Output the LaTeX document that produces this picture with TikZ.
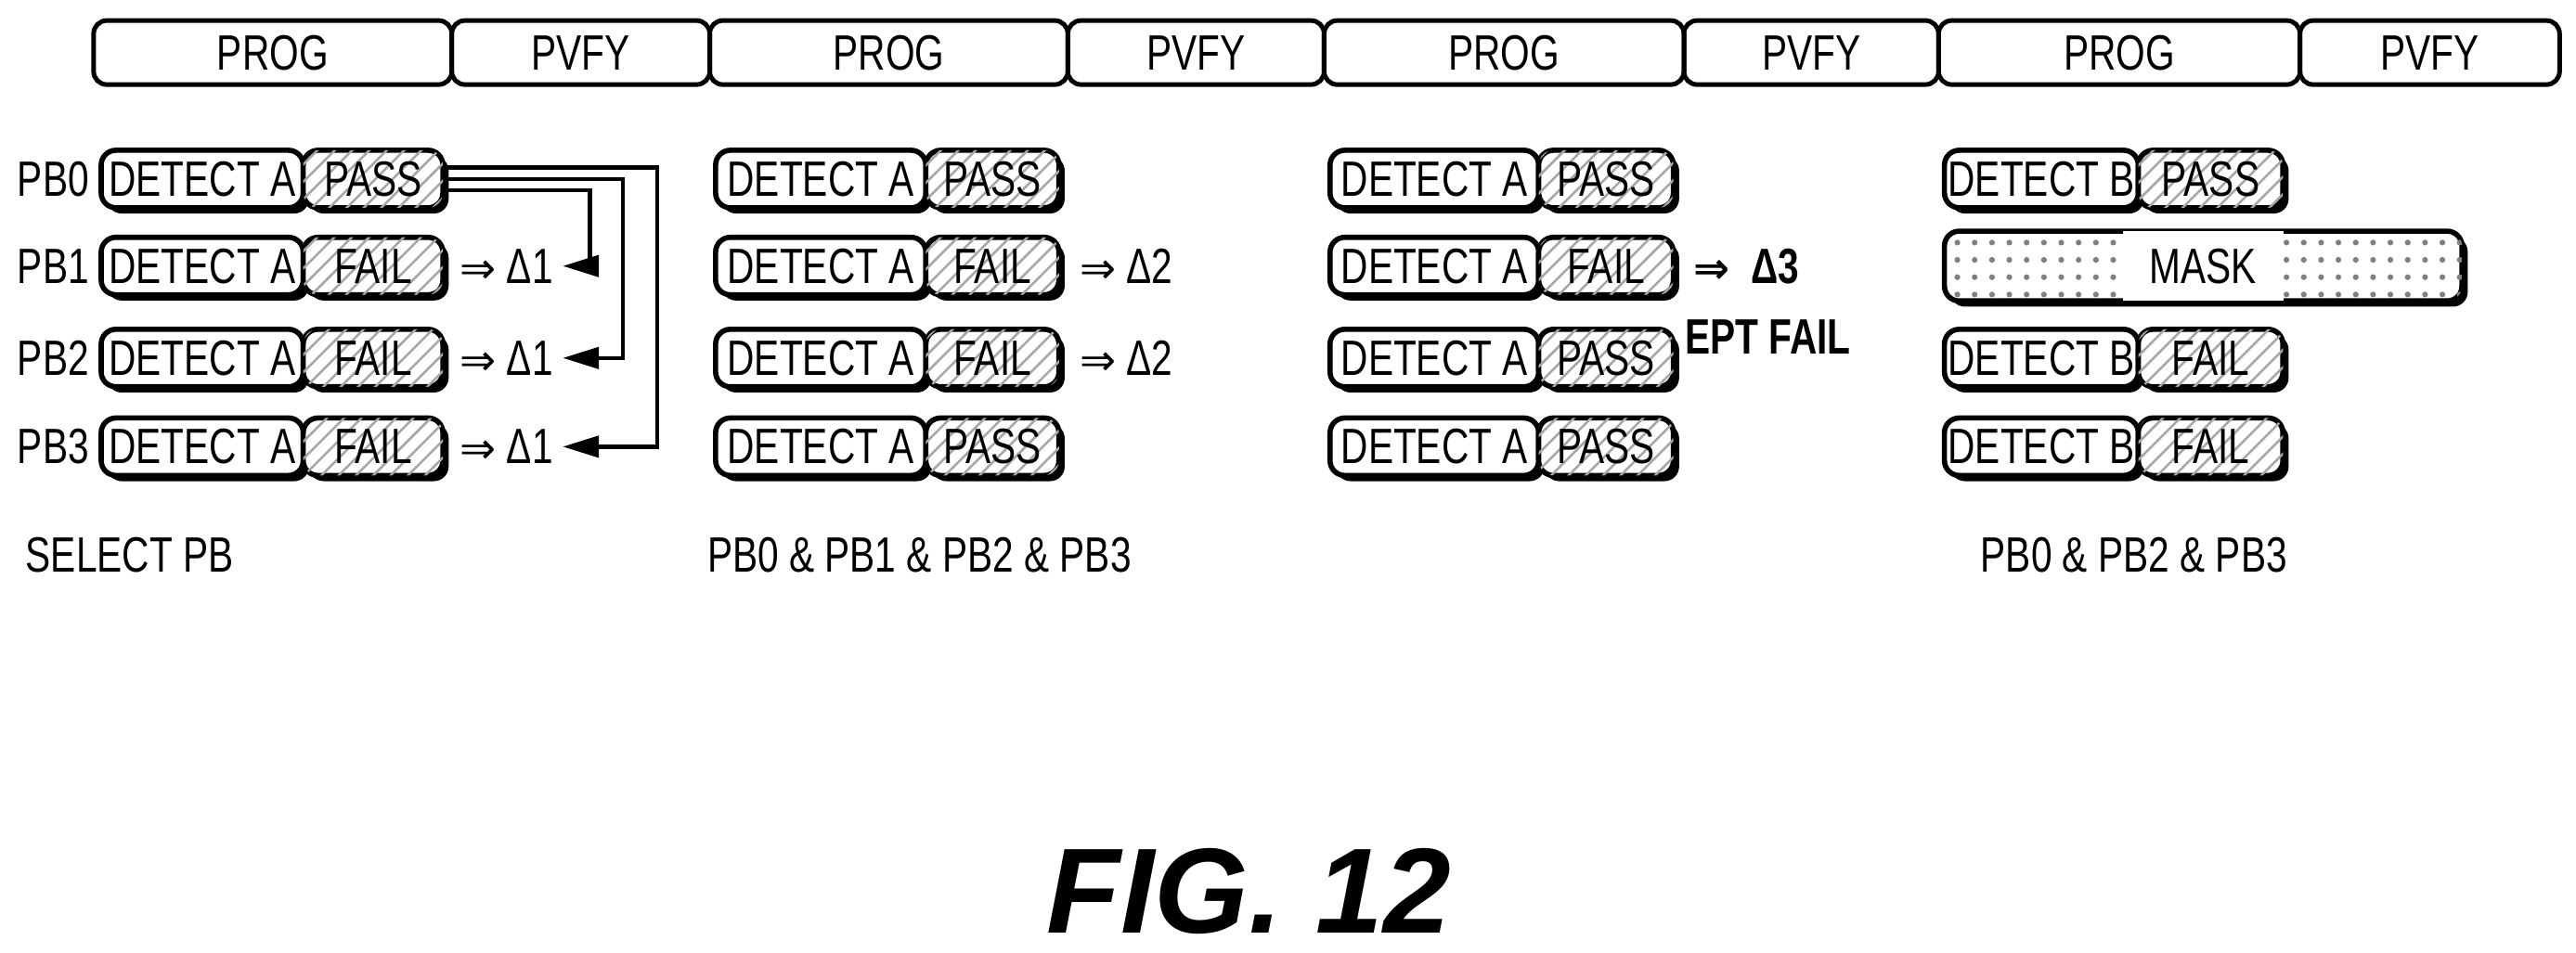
\documentclass[tikz,border=0pt]{standalone}
\usepackage{fontspec}
\setmainfont{Liberation Sans}[FakeStretch=0.76]
\newfontfamily\figfont{Liberation Sans}
\newfontfamily\symfont{DejaVu Sans}
\usetikzlibrary{shadows,patterns,arrows.meta}
\begin{document}
\begin{tikzpicture}[x=0.1mm,y=-0.1mm,
  base/.style={draw,line width=0.9pt,rounded corners=0.9mm,inner sep=0pt,minimum height=3.5mm,anchor=west,font=\fontsize{8.6}{10}\selectfont,
    drop shadow={shadow xshift=0.35mm,shadow yshift=-0.35mm,fill=black,opacity=1}},
  det/.style={base,fill=white},
  res/.style={base,fill=white,postaction={pattern=north east lines,pattern color=gray!70}},
  mask/.style={base,fill=white,postaction={pattern=dots,pattern color=gray}},
  bar/.style={draw,line width=0.8pt,rounded corners=0.8mm,inner sep=0pt,minimum height=3.9mm,font=\fontsize{8.6}{10}\selectfont},
  lbl/.style={font=\fontsize{8.6}{10}\selectfont,inner sep=0pt},
  dl/.style={font=\fontsize{8.6}{10}\selectfont,inner sep=0pt,outer sep=0.6mm,anchor=west},
  arr/.style={line width=0.7pt,-{Triangle[length=2.2mm,width=1.3mm]}}]
\useasboundingbox (0,0) rectangle (1568,580);
% top bar
\foreach \a/\b/\t [count=\i] in {57/275/PROG,275/432/PVFY,432/650/PROG,650/806/PVFY,806/1025/PROG,1025/1180/PVFY,1180/1400/PROG,1400/1558/PVFY}
  \node[bar,minimum width={(\b-\a)*0.1mm}] (t\i) at ({(\a+\b)/2},32) {\t};
% column 1
\foreach \r/\y/\res in {0/109/PASS,1/162/FAIL,2/218/FAIL,3/272/FAIL}{
  \node[lbl,anchor=west] (pb\r) at (10,\y) {PB\r};
  \node[det,minimum width=12.3mm] (a\r) at (60,\y) {DETECT A};
  \node[res,minimum width=8.5mm] (p\r) at (183,\y) {\res};
}
\foreach \r in {1,2,3} \node[dl] (d\r) at (274,\ifcase\r\or162\or218\or272\fi) {{\symfont\fontsize{7.5}{9}\selectfont⇒} Δ1};
\draw[arr] ([yshift=-0.7mm]p0.east) -- ++(8.8mm,0) |- (d1.east);
\draw[arr] (p0.east) -- ++(10.8mm,0) |- (d2.east);
\draw[arr] ([yshift=0.7mm]p0.east) -- ++(12.9mm,0) |- (d3.east);
\node[lbl,anchor=west] (s1) at (15,338) {SELECT PB};
% column 2
\foreach \r/\y/\res in {0/109/PASS,1/162/FAIL,2/218/FAIL,3/272/PASS}{
  \node[det,minimum width=12.8mm] (b\r) at (434,\y) {DETECT A};
  \node[res,minimum width=8.1mm] (q\r) at (562,\y) {\res};
}
\node[dl,anchor=west] (e1) at ([xshift=0.5mm]q1.east) {{\symfont\fontsize{7.5}{9}\selectfont⇒} Δ2};
\node[dl,anchor=west] (e2) at ([xshift=0.5mm]q2.east) {{\symfont\fontsize{7.5}{9}\selectfont⇒} Δ2};
\node[lbl,anchor=west] (s2) at (430,338) {PB0 \& PB1 \& PB2 \& PB3};
% column 3
\foreach \r/\y/\res in {0/109/PASS,1/162/FAIL,2/218/PASS,3/272/PASS}{
  \node[det,minimum width=12.7mm] (c\r) at (808,\y) {DETECT A};
  \node[res,minimum width=8.2mm] (u\r) at (935,\y) {\res};
}
\node[dl,anchor=west,font=\fontsize{8.6}{10}\selectfont\bfseries] (f1) at ([xshift=0.5mm]u1.east) {{\symfont\bfseries\fontsize{7.5}{9}\selectfont⇒}\ \ Δ3};
\node[lbl,anchor=west,font=\fontsize{8.6}{10}\selectfont\bfseries] (f2) at (1025,205) {EPT FAIL};
% column 4
\node[det,minimum width=11.8mm] (g0) at (1182,109) {DETECT B};
\node[res,minimum width=8.8mm] (h0) at (1300,109) {PASS};
\node[mask,minimum width=31.5mm] (m) at (1182,162) {\colorbox{white}{\hspace{0.6mm}MASK\hspace{0.6mm}}};
\foreach \r/\y in {2/218,3/272}{
  \node[det,minimum width=11.8mm] (g\r) at (1182,\y) {DETECT B};
  \node[res,minimum width=8.8mm] (h\r) at (1300,\y) {FAIL};
}
\node[lbl,anchor=west] (s4) at (1205,338) {PB0 \& PB2 \& PB3};
% figure label
\node[font=\figfont\bfseries\itshape\fontsize{21}{24}\selectfont] (fig) at (760,543) {FIG. 12};
\end{tikzpicture}
\end{document}
